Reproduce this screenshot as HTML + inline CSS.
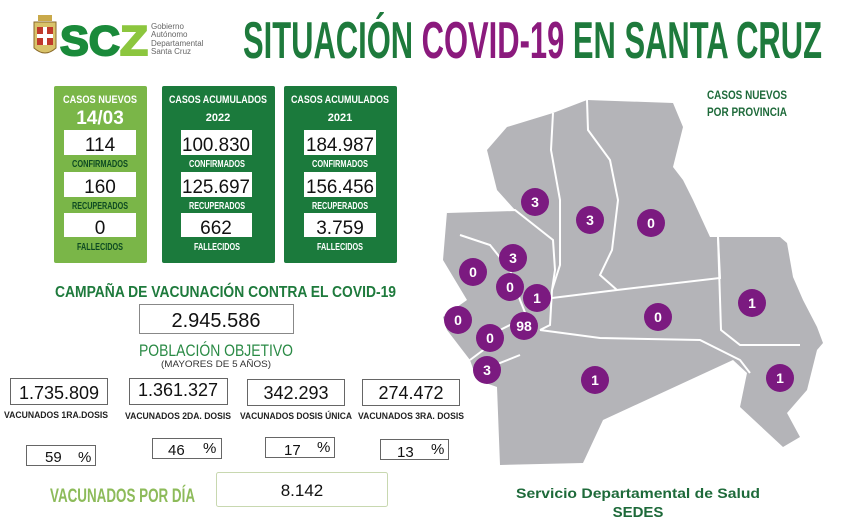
<!DOCTYPE html>
<html><head><meta charset="utf-8"><style>
body{margin:0;background:#fff}
svg{display:block}
.c{font-family:"Liberation Sans",sans-serif;font-weight:bold}
.n{font-family:"Liberation Sans",sans-serif}
</style></head><body>
<svg width="843" height="530" viewBox="0 0 843 530" xmlns="http://www.w3.org/2000/svg">
<rect width="843" height="530" fill="#fff"/>
<g>
<path d="M34 22 L56 22 L56 48 Q45 58 34 48 Z" fill="#d9c36a" stroke="#8a6a2a"/>
<rect x="37" y="27" width="16" height="18" fill="#c0392b"/>
<rect x="43" y="27" width="4" height="18" fill="#fff"/>
<rect x="37" y="34" width="16" height="4" fill="#fff"/>
<rect x="38" y="15" width="14" height="6" fill="#c9a94a"/>
<text x="60" y="55" class="c" font-size="42" fill="#1a8a3a" stroke="#1a8a3a" stroke-width="2" textLength="60" lengthAdjust="spacingAndGlyphs">SC</text>
<text x="120" y="55" class="c" font-size="42" fill="#8cc63e" stroke="#8cc63e" stroke-width="2" textLength="28" lengthAdjust="spacingAndGlyphs">Z</text>
<g class="n" font-size="8" fill="#666">
<text x="151" y="29">Gobierno</text><text x="151" y="37">Autónomo</text><text x="151" y="46">Departamental</text><text x="151" y="54">Santa Cruz</text>
</g>
</g>
<text x="243" y="58" class="c" font-size="52" textLength="579" lengthAdjust="spacingAndGlyphs" fill="#1e7a3c">SITUACIÓN <tspan fill="#8b1a7d">COVID-19</tspan> EN SANTA CRUZ</text>

<rect x="54" y="86" width="93" height="177" rx="2" fill="#7ab648"/>
<rect x="162" y="86" width="113" height="177" rx="2" fill="#1b7a3c"/>
<rect x="284" y="86" width="113" height="177" rx="2" fill="#1b7a3c"/>
<g class="c" fill="#fff" text-anchor="middle">
<text x="100" y="103" font-size="11" textLength="74" lengthAdjust="spacingAndGlyphs">CASOS NUEVOS</text>
<text x="100" y="124" font-size="19">14/03</text>
<text x="218" y="103" font-size="11" textLength="98" lengthAdjust="spacingAndGlyphs">CASOS ACUMULADOS</text>
<text x="218" y="121" font-size="11">2022</text>
<text x="340" y="103" font-size="11" textLength="98" lengthAdjust="spacingAndGlyphs">CASOS ACUMULADOS</text>
<text x="340" y="121" font-size="11">2021</text>
</g>
<g fill="#fff">
<rect x="64" y="130" width="72" height="25"/><rect x="64" y="172" width="72" height="25"/><rect x="64" y="213" width="72" height="24"/>
<rect x="181" y="130" width="71" height="25"/><rect x="181" y="172" width="71" height="25"/><rect x="181" y="213" width="71" height="24"/>
<rect x="304" y="130" width="72" height="25"/><rect x="304" y="172" width="72" height="25"/><rect x="304" y="213" width="72" height="24"/>
</g>
<g class="n" font-size="19" fill="#111" text-anchor="middle">
<text x="100" y="151">114</text><text x="100" y="193">160</text><text x="100" y="234">0</text>
<text x="216" y="151" textLength="68" lengthAdjust="spacingAndGlyphs">100.830</text><text x="216" y="193" textLength="68" lengthAdjust="spacingAndGlyphs">125.697</text><text x="216" y="234">662</text>
<text x="340" y="151" textLength="68" lengthAdjust="spacingAndGlyphs">184.987</text><text x="340" y="193" textLength="68" lengthAdjust="spacingAndGlyphs">156.456</text><text x="340" y="234">3.759</text>
</g>
<g class="c" font-size="10" fill="#0d4a22" text-anchor="middle">
<text x="100" y="167" textLength="56" lengthAdjust="spacingAndGlyphs">CONFIRMADOS</text>
<text x="100" y="209" textLength="56" lengthAdjust="spacingAndGlyphs">RECUPERADOS</text>
<text x="100" y="250" textLength="46" lengthAdjust="spacingAndGlyphs">FALLECIDOS</text>
</g>
<g class="c" font-size="10" fill="#fff" text-anchor="middle">
<text x="217" y="167" textLength="56" lengthAdjust="spacingAndGlyphs">CONFIRMADOS</text>
<text x="217" y="209" textLength="56" lengthAdjust="spacingAndGlyphs">RECUPERADOS</text>
<text x="217" y="250" textLength="46" lengthAdjust="spacingAndGlyphs">FALLECIDOS</text>
<text x="340" y="167" textLength="56" lengthAdjust="spacingAndGlyphs">CONFIRMADOS</text>
<text x="340" y="209" textLength="56" lengthAdjust="spacingAndGlyphs">RECUPERADOS</text>
<text x="340" y="250" textLength="46" lengthAdjust="spacingAndGlyphs">FALLECIDOS</text>
</g>

<text x="55" y="297" class="c" font-size="16" fill="#1e7a3c" textLength="341" lengthAdjust="spacingAndGlyphs">CAMPAÑA DE VACUNACIÓN CONTRA EL COVID-19</text>
<rect x="139.5" y="304.5" width="154" height="29" fill="#fff" stroke="#888"/>
<text x="216" y="327" class="n" font-size="20" text-anchor="middle" fill="#111">2.945.586</text>
<text x="216" y="356" class="n" font-size="17" text-anchor="middle" fill="#2a8a45" textLength="154" lengthAdjust="spacingAndGlyphs">POBLACIÓN OBJETIVO</text>
<text x="216" y="367" class="n" font-size="9" text-anchor="middle" fill="#333" textLength="110" lengthAdjust="spacingAndGlyphs">(MAYORES DE 5 AÑOS)</text>

<g fill="#fff" stroke="#666">
<rect x="10.5" y="378.5" width="97" height="26"/><rect x="129.5" y="378.5" width="98" height="26"/>
<rect x="247.5" y="379.5" width="97" height="26"/><rect x="362.5" y="379.5" width="97" height="26"/>
<rect x="26.5" y="445.5" width="69" height="20"/><rect x="152.5" y="438.5" width="69" height="20"/>
<rect x="265.5" y="437.5" width="69" height="20"/><rect x="380.5" y="439.5" width="68" height="20"/>
</g>
<g class="n" font-size="18" fill="#111" text-anchor="middle">
<text x="59" y="399">1.735.809</text><text x="178" y="396">1.361.327</text>
<text x="296" y="399">342.293</text><text x="411" y="399">274.472</text>
</g>
<g class="c" font-size="9" fill="#222" text-anchor="middle">
<text x="56" y="418" textLength="104" lengthAdjust="spacingAndGlyphs">VACUNADOS 1RA.DOSIS</text>
<text x="178" y="419" textLength="106" lengthAdjust="spacingAndGlyphs">VACUNADOS 2DA. DOSIS</text>
<text x="296" y="419" textLength="112" lengthAdjust="spacingAndGlyphs">VACUNADOS DOSIS ÚNICA</text>
<text x="411" y="419" textLength="106" lengthAdjust="spacingAndGlyphs">VACUNADOS 3RA. DOSIS</text>
</g>
<g class="n" font-size="15" fill="#111">
<text x="45" y="462">59</text><text x="78" y="462">%</text>
<text x="168" y="455">46</text><text x="203" y="453">%</text>
<text x="284" y="455">17</text><text x="317" y="452">%</text>
<text x="397" y="457">13</text><text x="431" y="454">%</text>
</g>
<text x="50" y="502" class="c" font-size="19" fill="#8dbb5a" textLength="145" lengthAdjust="spacingAndGlyphs">VACUNADOS POR DÍA</text>
<rect x="216.5" y="472.5" width="171" height="34" rx="2" fill="#fff" stroke="#c8d8b0"/>
<text x="302" y="496" class="n" font-size="17" text-anchor="middle" fill="#111">8.142</text>

<path d="M487 150 L507 127 L553 113 L587 100 L673 103 L683 127 L673 167 L683 180 L693 200 L710 237 L780 237 L787 243 L793 277 L803 300 L817 327 L823 343 L817 350 L807 390 L787 413 L800 437 L783 447 L740 407 L747 373 L733 360 L603 420 L583 463 L500 465 L497 387 L477 380 L470 360 L447 330 L443 317 L467 300 L443 260 L447 212 L515 210 L497 190 Z" fill="#b4b4b8"/>
<g fill="none" stroke="#fff" stroke-width="2">
<path d="M553 113 L551 150 L560 200 L560 265 L552 290"/>
<path d="M587 100 L588 130 L610 160 L618 200 L612 250 L600 275 L617 290"/>
<path d="M447 212 L515 210 L553 240 L555 270 L552 290 L550 325 L540 330"/>
<path d="M552 298 L617 290 L720 278 L718 237"/>
<path d="M540 330 L600 338 L700 340 L740 360 L750 373"/>
<path d="M718 237 L721 330 L740 345 L800 345"/>
<path d="M460 235 L490 245 L510 270 L520 300 L530 325"/>
<path d="M470 360 L490 345 L500 330 L520 320"/>
<path d="M477 380 L495 365 L520 355"/>
</g>
<g fill="#7b1a80">
<circle cx="535" cy="202" r="14"/><circle cx="590" cy="220" r="14"/><circle cx="651" cy="223" r="14"/>
<circle cx="513" cy="258" r="14"/><circle cx="473" cy="272" r="14"/><circle cx="510" cy="287" r="14"/>
<circle cx="537" cy="298" r="14"/><circle cx="658" cy="317" r="14"/><circle cx="752" cy="303" r="14"/>
<circle cx="458" cy="320" r="14"/><circle cx="524" cy="326" r="14"/><circle cx="490" cy="338" r="14"/>
<circle cx="487" cy="370" r="14"/><circle cx="595" cy="380" r="14"/><circle cx="780" cy="378" r="14"/>
</g>
<g class="c" font-size="14" fill="#fff" text-anchor="middle">
<text x="535" y="207">3</text><text x="590" y="225">3</text><text x="651" y="228">0</text>
<text x="513" y="263">3</text><text x="473" y="277">0</text><text x="510" y="292">0</text>
<text x="537" y="303">1</text><text x="658" y="322">0</text><text x="752" y="308">1</text>
<text x="458" y="325">0</text><text x="524" y="331">98</text><text x="490" y="343">0</text>
<text x="487" y="375">3</text><text x="595" y="385">1</text><text x="780" y="383">1</text>
</g>
<g class="c" font-size="12" fill="#1e6a3a" text-anchor="middle">
<text x="747" y="99" textLength="80" lengthAdjust="spacingAndGlyphs">CASOS NUEVOS</text>
<text x="747" y="116" textLength="80" lengthAdjust="spacingAndGlyphs">POR PROVINCIA</text>
</g>
<text x="638" y="498" class="c" font-size="14" fill="#1e6a3a" text-anchor="middle" textLength="244" lengthAdjust="spacingAndGlyphs">Servicio Departamental de Salud</text>
<text x="638" y="517" class="c" font-size="15" fill="#1e6a3a" text-anchor="middle">SEDES</text>
</svg>
</body></html>
